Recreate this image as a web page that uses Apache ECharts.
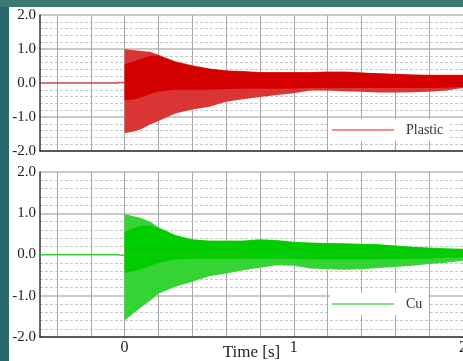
<!DOCTYPE html>
<html>
<head>
<meta charset="utf-8">
<script src="https://cdn.jsdelivr.net/npm/echarts@6/dist/echarts.min.js"></script>
<style>
  html, body { margin: 0; padding: 0; background: linear-gradient(#3a7a72 0, #3a7a72 7px, #2d6868 7px); }
  #chart { width: 463px; height: 361px; }
</style>
</head>
<body>
<div id="chart"></div>
<script>
const times = [0, 0.03, 0.06, 0.1, 0.15, 0.2, 0.3, 0.4, 0.5, 0.6, 0.7, 0.8, 0.9, 1.0,
  1.1, 1.2, 1.3, 1.4, 1.5, 1.6, 1.7, 1.8, 1.9, 2.0];

// Plastic (red) panel
const plasticUpper = [1.0, 0.98, 0.96, 0.94, 0.92, 0.83, 0.64, 0.52, 0.43, 0.37, 0.35, 0.32, 0.32, 0.32,
  0.32, 0.34, 0.34, 0.31, 0.29, 0.27, 0.25, 0.24, 0.24, 0.24];
const plasticLower = [-1.47, -1.45, -1.42, -1.35, -1.22, -1.12, -0.9, -0.78, -0.7, -0.55, -0.48, -0.41, -0.35, -0.3,
  -0.22, -0.22, -0.24, -0.26, -0.28, -0.28, -0.27, -0.26, -0.22, -0.15];
const plasticCoreUpper = [0.55, 0.6, 0.65, 0.72, 0.8, 0.8, 0.62, 0.5, 0.42, 0.36, 0.34, 0.31, 0.31, 0.31,
  0.31, 0.32, 0.32, 0.3, 0.28, 0.26, 0.24, 0.23, 0.23, 0.23];
const plasticCoreLower = [-0.5, -0.5, -0.48, -0.42, -0.32, -0.25, -0.2, -0.2, -0.2, -0.18, -0.17, -0.17, -0.17, -0.16,
  -0.15, -0.15, -0.15, -0.15, -0.15, -0.15, -0.15, -0.15, -0.14, -0.12];
const plasticPreT = [-0.5, -0.1, -0.045, -0.035, -0.025, -0.015, 0];
const plasticPreV = [0, 0, 0, -0.05, 0.03, 0, 0];

// Cu (green) panel
const cuUpper = [0.98, 0.95, 0.92, 0.88, 0.8, 0.66, 0.47, 0.37, 0.34, 0.34, 0.34, 0.37, 0.35, 0.31,
  0.29, 0.28, 0.27, 0.26, 0.25, 0.22, 0.19, 0.17, 0.15, 0.14];
const cuLower = [-1.6, -1.5, -1.4, -1.27, -1.12, -0.95, -0.78, -0.66, -0.53, -0.46, -0.38, -0.32, -0.26, -0.27,
  -0.34, -0.36, -0.37, -0.36, -0.33, -0.3, -0.27, -0.23, -0.2, -0.15];
const cuCoreUpper = [0.55, 0.6, 0.65, 0.7, 0.7, 0.64, 0.46, 0.36, 0.33, 0.33, 0.33, 0.36, 0.34, 0.3,
  0.28, 0.27, 0.26, 0.25, 0.24, 0.21, 0.18, 0.16, 0.14, 0.13];
const cuCoreLower = [-0.45, -0.42, -0.4, -0.35, -0.28, -0.2, -0.12, -0.1, -0.1, -0.1, -0.1, -0.1, -0.1, -0.1,
  -0.12, -0.12, -0.12, -0.12, -0.12, -0.11, -0.1, -0.1, -0.08, -0.07];
const cuPreT = [-0.5, -0.1, -0.04, -0.03, -0.02, -0.01, 0];
const cuPreV = [0, 0, 0, 0.02, -0.03, 0.01, 0];

const yTicks = [-2, -1, 0, 1, 2];
const xTickLabels = [0, 1, 2];

const pairs = (xs, ys) => xs.map((x, i) => [x, ys[i]]);
const serif = "Liberation Serif";

const chart = echarts.init(document.getElementById("chart"));

function band(name, idx, data, color, z) {
  return {
    name,
    type: "line",
    xAxisIndex: idx,
    yAxisIndex: idx,
    showSymbol: false,
    silent: true,
    z,
    lineStyle: { width: 0 },
    areaStyle: { color, opacity: 1 },
    data,
  };
}

function xAxis(idx, withLabels) {
  return {
    type: "value",
    gridIndex: idx,
    min: -0.5,
    max: 2,
    interval: 0.1,
    axisLine: { onZero: false, lineStyle: { color: "#333", width: 1.5 } },
    axisTick: { show: false },
    axisLabel: {
      show: withLabels,
      color: "#222",
      fontFamily: serif,
      fontSize: 16,
      margin: 3,
      formatter: (v) => (xTickLabels.includes(Math.round(v * 10) / 10) ? String(Math.round(v)) : ""),
    },
    splitLine: { lineStyle: { color: ["transparent", "#a8a8a8"], width: 1 } },
    name: withLabels ? "Time [s]" : "",
    nameLocation: "middle",
    nameGap: 7,
    nameMoveOverlap: false,
    nameTextStyle: { color: "#222", fontFamily: serif, fontSize: 17, verticalAlign: "top" },
  };
}

function yAxis(idx) {
  return {
    type: "value",
    gridIndex: idx,
    min: yTicks[0],
    max: yTicks[yTicks.length - 1],
    interval: 1,
    axisLine: { onZero: false, lineStyle: { color: "#333", width: 1.5 } },
    axisTick: { show: false },
    axisLabel: { color: "#222", fontFamily: serif, fontSize: 15, margin: 4, formatter: (v) => v.toFixed(1) },
    splitLine: { lineStyle: { color: "#cacaca", width: 2 } },
    minorTick: { show: false, splitNumber: 5 },
    minorSplitLine: { show: true, lineStyle: { color: "#c8c8c8", width: 1, type: [3, 2] } },
  };
}

function legend(name, top, color) {
  return {
    data: [{ name, icon: "rect", itemStyle: { color } }],
    left: 330,
    top,
    orient: "horizontal",
    backgroundColor: "#fff",
    padding: [4, 6, 4, 2],
    itemWidth: 62,
    itemHeight: 2,
    selectedMode: false,
    textStyle: { color: "#333", fontFamily: serif, fontSize: 14, padding: [0, 0, 0, 7] },
  };
}

chart.setOption({
  animation: false,
  graphic: [
    { type: "rect", left: 9, top: 7, shape: { width: 454, height: 354 }, style: { fill: "#fff" }, z: -100, silent: true },
  ],
  grid: [
    { left: 40, top: 15, width: 423, height: 136, outerBoundsMode: "none" },
    { left: 40, top: 172, width: 423, height: 165, outerBoundsMode: "none" },
  ],
  xAxis: [xAxis(0, false), xAxis(1, true)],
  yAxis: [yAxis(0), yAxis(1)],
  legend: [legend("Plastic", 119, "#f08c8c"), legend("Cu", 293, "#7fe07f")],
  series: [
    band("plasticOuterUp", 0, pairs(times, plasticUpper), "#da3434", 2),
    band("plasticOuterLow", 0, pairs(times, plasticLower), "#da3434", 2),
    band("plasticCoreUp", 0, pairs(times, plasticCoreUpper), "#d40000", 3),
    band("plasticCoreLow", 0, pairs(times, plasticCoreLower), "#d40000", 3),
    {
      name: "Plastic",
      type: "line",
      xAxisIndex: 0,
      yAxisIndex: 0,
      showSymbol: false,
      z: 4,
      color: "#e02020",
      lineStyle: { width: 1, color: "#e02020" },
      data: pairs(plasticPreT, plasticPreV),
    },
    band("cuOuterUp", 1, pairs(times, cuUpper), "#33d433", 2),
    band("cuOuterLow", 1, pairs(times, cuLower), "#33d433", 2),
    band("cuCoreUp", 1, pairs(times, cuCoreUpper), "#00cc00", 3),
    band("cuCoreLow", 1, pairs(times, cuCoreLower), "#00cc00", 3),
    {
      name: "Cu",
      type: "line",
      xAxisIndex: 1,
      yAxisIndex: 1,
      showSymbol: false,
      z: 4,
      color: "#30d030",
      lineStyle: { width: 1, color: "#30d030" },
      data: pairs(cuPreT, cuPreV),
    },
  ],
});
</script>
</body>
</html>
